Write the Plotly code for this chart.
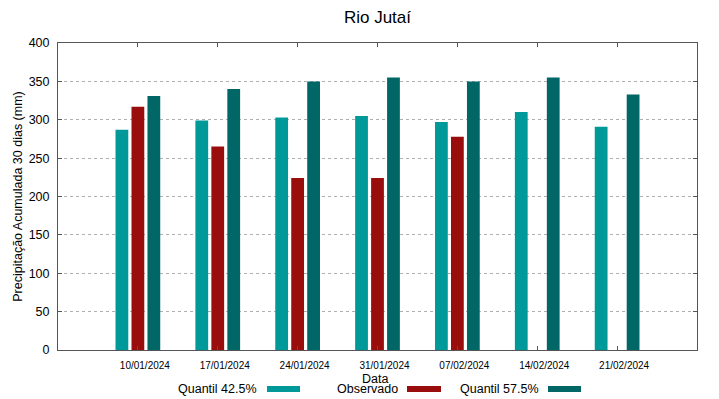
import plotly.graph_objects as go

dates = ["10/01/2024", "17/01/2024", "24/01/2024", "31/01/2024",
         "07/02/2024", "14/02/2024", "21/02/2024"]
quantil_425 = [287, 299, 303, 305, 297, 310, 291]
observado = [317, 265, 224, 224, 278, None, None]
quantil_575 = [331, 340, 350, 355, 350, 355, 333]
y_ticks = [0, 50, 100, 150, 200, 250, 300, 350, 400]

series_names = ["Quantil 42.5%", "Observado", "Quantil 57.5%"]
series_colors = ["#009999", "#990d0d", "#006666"]
series_values = [quantil_425, observado, quantil_575]

FONT = "Liberation Sans, Arial, sans-serif"

fig = go.Figure()
for name, vals, col in zip(series_names, series_values, series_colors):
    fig.add_trace(go.Bar(x=dates, y=vals, name=name, marker=dict(color=col, line=dict(width=0)),
                         showlegend=False))

# plot area geometry (px) for legend placement
L, R, T, B = 58, 697, 43, 350
W, H = R - L, B - T

def px_x(p):
    return (p - L) / W

def px_y(p):
    return (B - p) / H

legend_text_right = [259, 400, 541]
swatch_x = [(267, 300), (407, 441), (548, 581)]
legend_y = 389
for name, col, tx, (s0, s1) in zip(series_names, series_colors, legend_text_right, swatch_x):
    fig.add_annotation(x=px_x(tx), y=px_y(legend_y), xref="paper", yref="paper",
                       text=name, showarrow=False, xanchor="right", yanchor="middle",
                       font=dict(family=FONT, size=12.5, color="#000000"))
    fig.add_shape(type="rect", xref="paper", yref="paper",
                  x0=px_x(s0), x1=px_x(s1), y0=px_y(legend_y + 3), y1=px_y(legend_y - 3),
                  fillcolor=col, line=dict(width=0))

fig.add_annotation(x=px_x(375), y=px_y(379), xref="paper", yref="paper", text="Data",
                   showarrow=False, xanchor="center", yanchor="middle",
                   font=dict(family=FONT, size=12.5, color="#000000"))

fig.update_layout(
    width=719, height=399,
    margin=dict(l=L, r=719 - R, t=T, b=399 - B),
    paper_bgcolor="white", plot_bgcolor="white",
    barmode="group", bargap=0.4, bargroupgap=0.2,
    title=dict(text="Rio Jutaí", x=0.525, xanchor="center", y=0.957, yanchor="middle",
               font=dict(family=FONT, size=17, color="#000000")),
    font=dict(family=FONT, color="#000000"),
)
fig.update_xaxes(
    type="category", range=[-1, 7], automargin=False,
    showline=True, linecolor="#555555", linewidth=1, mirror="allticks",
    ticks="inside", ticklen=4, tickcolor="#555555",
    showgrid=False, tickfont=dict(family=FONT, size=10, color="#000000"),
    ticklabelshift=7, ticklabelstandoff=6,
)
fig.update_yaxes(
    range=[0, 400], tickvals=y_ticks, automargin=False,
    showline=True, linecolor="#555555", linewidth=1, mirror="allticks",
    ticks="inside", ticklen=4, tickcolor="#555555",
    showgrid=True, gridcolor="#b0b0b0", griddash="dot", gridwidth=1,
    zeroline=False, ticklabelstandoff=5,
    tickfont=dict(family=FONT, size=12.5, color="#000000"),
    title=dict(text="Precipitação Acumulada 30 dias (mm)", standoff=3,
               font=dict(family=FONT, size=12.5, color="#000000")),
)

fig.write_html("out.html", config={"displayModeBar": False},
               post_script="document.body.style.margin='0';document.body.style.overflow='hidden';")
